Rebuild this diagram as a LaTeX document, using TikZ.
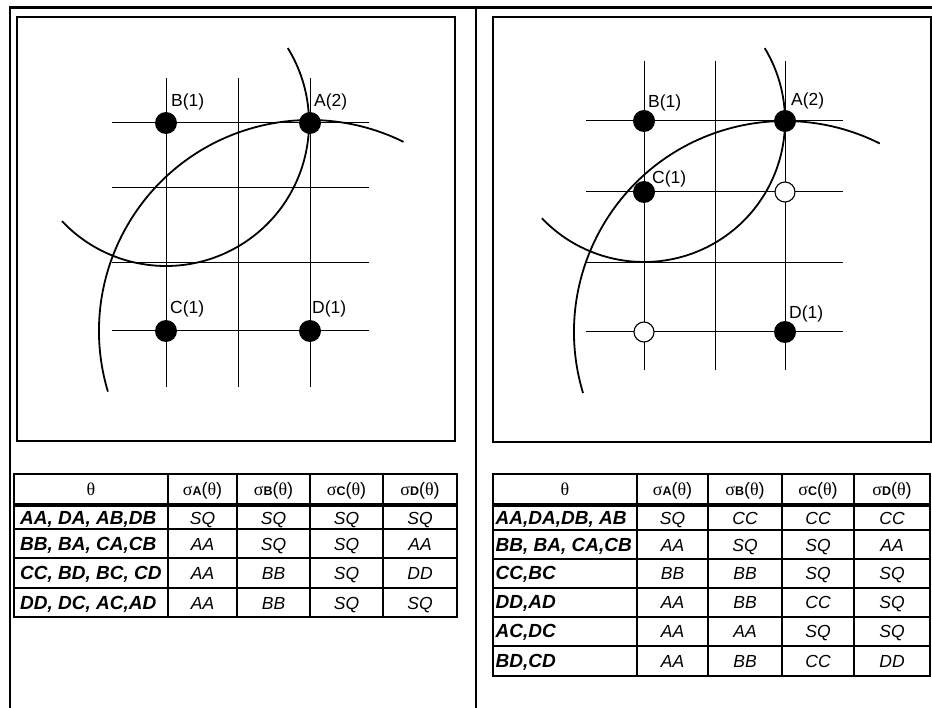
\documentclass[tikz,border=0pt]{standalone}
\usepackage{fontspec}
\setmainfont{Liberation Sans}
\newfontfamily\greekfont{Liberation Serif}

\newcommand{\thet}{{\greekfont θ}}
\newcommand{\sig}[1]{{\greekfont σ}{\fontsize{12.5}{12}\selectfont\bfseries #1}({\greekfont θ})}

\begin{document}
\begin{tikzpicture}[x=1pt, y=-1pt,
    every node/.style={font=\fontsize{17.5}{20}\selectfont},
    gridline/.style={line width=1pt},
    arcline/.style={line width=1.8pt},
    dot/.style={circle, fill=black, inner sep=0pt, minimum size=22pt},
    ring/.style={circle, draw=black, fill=white, line width=1.1pt, inner sep=0pt, minimum size=20pt},
    lbl/.style={anchor=south west, inner sep=0pt},
    rowlbl/.style={anchor=base west, inner sep=0pt, font=\fontsize{19}{20}\selectfont\bfseries\itshape},
    entry/.style={anchor=base, inner sep=0pt, font=\fontsize{17.5}{20}\selectfont\itshape},
    head/.style={anchor=base, inner sep=0pt, font=\fontsize{18}{20}\selectfont},
    rule/.style={line width=2pt}]
  \useasboundingbox (0,0) rectangle (932,708);

  % frame
  \draw[line width=2.5pt] (932,7.5) -- (10,7.5) -- (10,708);
  \draw[line width=2.5pt] (476,7.5) -- (476,708);
  \draw[line width=1.5pt] (17,17) rectangle (455,441);
  \draw[line width=1.5pt] (493,17) rectangle (931,442);

  % left panel
  \coordinate (lA) at (310,123);
  \coordinate (lB) at (166,123);
  \coordinate (lC) at (166,331);
  \coordinate (lD) at (310,331);
  \foreach \x in {166,238,310} \draw[gridline] (\x,78) -- (\x,387);
  \foreach \y in {123,188,263,331} \draw[gridline] (112,\y) -- (369,\y);
  \draw[arcline] (lB) ++(-31.6:143) arc[start angle=-31.6, end angle=136.7, radius=143];
  \draw[arcline] (lD) ++(163.3:211) arc[start angle=163.3, end angle=296.3, radius=211];
  \node[dot] (lAdot) at (lA) {};
  \node[dot] (lBdot) at (lB) {};
  \node[dot] (lCdot) at (lC) {};
  \node[dot] (lDdot) at (lD) {};
  \node[lbl] (lAlab) at (314,110) {A(2)};
  \node[lbl] (lBlab) at (171,110) {B(1)};
  \node[lbl] (lClab) at (170,317) {C(1)};
  \node[lbl] (lDlab) at (312,317) {D(1)};

  % right panel
  \coordinate (rA) at (785,121);
  \coordinate (rB) at (644,121);
  \coordinate (rC) at (644,192);
  \coordinate (rD) at (785,332);
  \foreach \x in {644,715,785} \draw[gridline] (\x,61) -- (\x,370);
  \foreach \y in {121,192,263,332} \draw[gridline] (586,\y) -- (843,\y);
  \draw[arcline] (rB) ++(-31.1:141) arc[start angle=-31.1, end angle=136.4, radius=141];
  \draw[arcline] (rD) ++(163.2:211) arc[start angle=163.2, end angle=296.7, radius=211];
  \node[dot] (rAdot) at (rA) {};
  \node[dot] (rBdot) at (rB) {};
  \node[dot] (rCdot) at (rC) {};
  \node[dot] (rDdot) at (rD) {};
  \node[ring] (rEring) at (785,192) {};
  \node[ring] (rFring) at (644,332) {};
  \node[lbl] (rAlab) at (791,109) {A(2)};
  \node[lbl] (rBlab) at (648,111) {B(1)};
  \node[lbl] (rClab) at (652,187) {C(1)};
  \node[lbl] (rDlab) at (789,322) {D(1)};

  % left table
  \draw[rule] (14,474) rectangle (457,617);
  \foreach \x in {168,237,310,383} \draw[rule] (\x,474) -- (\x,617);
  \foreach \y in {529,558,588} \draw[rule] (14,\y) -- (457,\y);
  \draw[line width=4pt] (14,505) -- (457,505);
  \node[head] (lh0) at (91,495.5) {\thet};
  \node[head] (lh1) at (202.5,495.5) {\sig{A}};
  \node[head] (lh2) at (273.5,495.5) {\sig{B}};
  \node[head] (lh3) at (346.5,495.5) {\sig{C}};
  \node[head] (lh4) at (420,495.5) {\sig{D}};
  \foreach \y/\lab/\a/\b/\c/\d [count=\i] in {
      524.5/{AA, DA, AB,DB}/SQ/SQ/SQ/SQ,
      550/{BB, BA, CA,CB}/AA/SQ/SQ/AA,
      579.5/{CC, BD, BC, CD}/AA/BB/SQ/DD,
      609/{DD, DC, AC,AD}/AA/BB/SQ/SQ} {
    \node[rowlbl] (lr\i) at (20,\y) {\lab};
    \node[entry] (lr\i a) at (202.5,\y) {\a};
    \node[entry] (lr\i b) at (273.5,\y) {\b};
    \node[entry] (lr\i c) at (346.5,\y) {\c};
    \node[entry] (lr\i d) at (420,\y) {\d};
  }

  % right table
  \draw[rule] (493,474) rectangle (930,676);
  \foreach \x in {637,708,782,854} \draw[rule] (\x,474) -- (\x,676);
  \foreach \y in {530,559,587.5,616.5,646} \draw[rule] (493,\y) -- (930,\y);
  \draw[line width=4pt] (493,505) -- (930,505);
  \node[head] (rh0) at (565,495.5) {\thet};
  \node[head] (rh1) at (672.5,495.5) {\sig{A}};
  \node[head] (rh2) at (745,495.5) {\sig{B}};
  \node[head] (rh3) at (818,495.5) {\sig{C}};
  \node[head] (rh4) at (892,495.5) {\sig{D}};
  \foreach \y/\lab/\a/\b/\c/\d [count=\i] in {
      524.5/{AA,DA,DB, AB}/SQ/CC/CC/CC,
      551/{BB, BA, CA,CB}/AA/SQ/SQ/AA,
      579.5/{CC,BC}/BB/BB/SQ/SQ,
      608.5/{DD,AD}/AA/BB/CC/SQ,
      637.5/{AC,DC}/AA/AA/SQ/SQ,
      667.5/{BD,CD}/AA/BB/CC/DD} {
    \node[rowlbl] (rr\i) at (495.5,\y) {\lab};
    \node[entry] (rr\i a) at (672.5,\y) {\a};
    \node[entry] (rr\i b) at (745,\y) {\b};
    \node[entry] (rr\i c) at (818,\y) {\c};
    \node[entry] (rr\i d) at (892,\y) {\d};
  }
\end{tikzpicture}
\end{document}
